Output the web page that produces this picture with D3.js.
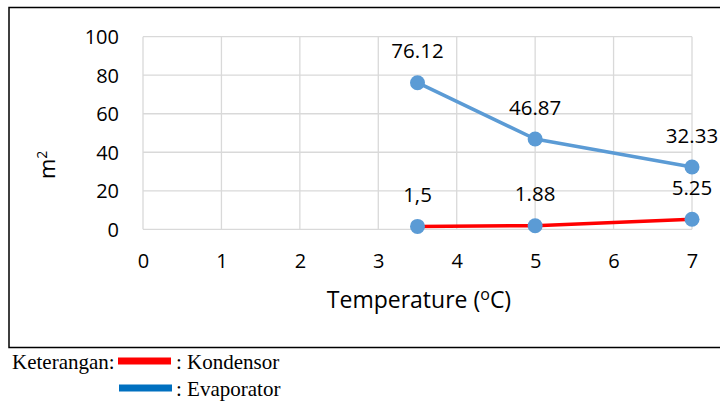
<!DOCTYPE html>
<html>
<head>
<meta charset="utf-8">
<script src="https://cdn.jsdelivr.net/npm/d3@7"></script>
<style>
  html, body { margin: 0; padding: 0; background: #fff; }
  svg { display: block; }
</style>
</head>
<body>
<svg id="chart" width="720" height="401"></svg>
<script>
// ---- data ----
const temperatures = [3.5, 5, 7];
const evaporator = [76.12, 46.87, 32.33];
const kondensor = [1.5, 1.88, 5.25];
const evaporatorLabels = ["76.12", "46.87", "32.33"];
const kondensorLabels = ["1,5", "1.88", "5.25"];
const xTicks = [0, 1, 2, 3, 4, 5, 6, 7];
const yTicks = [0, 20, 40, 60, 80, 100];
const legendItems = ["Kondensor", "Evaporator"];

const svg = d3.select("#chart");
const font = "'Open Sans', sans-serif";

// outer border
svg.append("rect")
  .attr("x", 9).attr("y", 7.5).attr("width", 730).attr("height", 340)
  .attr("fill", "none").attr("stroke", "#000").attr("stroke-width", 1.5);

const x = d3.scaleLinear().domain([0, 7]).range([143, 692]);
const y = d3.scaleLinear().domain([0, 100]).range([229.3, 36.7]);

// gridlines
const g = svg.append("g");
g.selectAll("line.vg").data(xTicks).join("line")
  .attr("x1", d => x(d)).attr("x2", d => x(d))
  .attr("y1", y(0)).attr("y2", y(100))
  .attr("stroke", "#d9d9d9").attr("stroke-width", 1.3);
g.selectAll("line.hg").data(yTicks).join("line")
  .attr("x1", x(0)).attr("x2", x(7))
  .attr("y1", d => y(d)).attr("y2", d => y(d))
  .attr("stroke", "#d9d9d9").attr("stroke-width", 1.3);

// axes (labels only)
const xAxis = d3.axisBottom(x).tickValues(xTicks).tickSize(0).tickPadding(0).tickFormat(d3.format("d"));
const xg = svg.append("g").attr("transform", `translate(0,${y(0)})`).call(xAxis);
xg.select(".domain").remove();
xg.selectAll("text").attr("font-family", font).attr("font-size", 20).attr("fill", "#000")
  .attr("dy", null).attr("y", 39);

const yAxis = d3.axisLeft(y).tickValues(yTicks).tickSize(0).tickPadding(0).tickFormat(d3.format("d"));
const yg = svg.append("g").attr("transform", `translate(119,0)`).call(yAxis);
yg.select(".domain").remove();
yg.selectAll("text").attr("font-family", font).attr("font-size", 20).attr("fill", "#000")
  .attr("x", 0).attr("dy", "0.35em");

// axis titles
const xt = svg.append("text").attr("x", 419).attr("y", 308)
  .attr("text-anchor", "middle").attr("font-family", font).attr("font-size", 23).attr("fill", "#000");
xt.append("tspan").text("Temperature (");
xt.append("tspan").text("o").attr("font-size", 16).attr("dy", -8);
xt.append("tspan").text("C)").attr("dy", 8);

const yt = svg.append("text").attr("transform", "translate(55,179) rotate(-90)")
  .attr("text-anchor", "start").attr("font-family", font).attr("font-size", 22).attr("fill", "#000");
yt.append("tspan").text("m");
yt.append("tspan").text("2").attr("font-size", 14).attr("dy", -8);

// lines
const line = d3.line().x(d => x(d[0])).y(d => y(d[1]));
const evapPts = temperatures.map((t, i) => [t, evaporator[i]]);
const kondPts = temperatures.map((t, i) => [t, kondensor[i]]);

svg.append("path").datum(evapPts).attr("d", line)
  .attr("fill", "none").attr("stroke", "#5B9BD5").attr("stroke-width", 3.5).attr("stroke-linejoin", "round");
svg.append("path").datum(kondPts).attr("d", line)
  .attr("fill", "none").attr("stroke", "#FF0000").attr("stroke-width", 3.5).attr("stroke-linejoin", "round");

// markers
svg.selectAll("circle.evap").data(evapPts).join("circle")
  .attr("cx", d => x(d[0])).attr("cy", d => y(d[1])).attr("r", 7.5).attr("fill", "#5B9BD5");
svg.selectAll("circle.kond").data(kondPts).join("circle")
  .attr("cx", d => x(d[0])).attr("cy", d => y(d[1])).attr("r", 7.5).attr("fill", "#5B9BD5");

// data labels
svg.selectAll("text.evl").data(evapPts).join("text")
  .attr("x", d => x(d[0])).attr("y", d => y(d[1]) - 24.5)
  .attr("text-anchor", "middle").attr("font-family", font).attr("font-size", 20.5).attr("fill", "#000")
  .text((d, i) => evaporatorLabels[i]);
svg.selectAll("text.kdl").data(kondPts).join("text")
  .attr("x", d => x(d[0])).attr("y", d => y(d[1]) - 24.5)
  .attr("text-anchor", "middle").attr("font-family", font).attr("font-size", 20.5).attr("fill", "#000")
  .text((d, i) => kondensorLabels[i]);

// legend
const serif = "'Liberation Serif', 'Times New Roman', serif";
svg.append("text").attr("x", 12).attr("y", 369)
  .attr("font-family", serif).attr("font-size", 21).attr("fill", "#000").text("Keterangan:");
const legColors = ["#FF0000", "#0070C0"];
const legY = [361, 388];
legendItems.forEach((name, i) => {
  svg.append("rect").attr("x", 118 + i).attr("y", legY[i] - 3.5).attr("width", 53).attr("height", 7)
    .attr("fill", legColors[i]);
  svg.append("text").attr("x", 176).attr("y", legY[i] + 8)
    .attr("font-family", serif).attr("font-size", 21).attr("fill", "#000").text(": " + name);
});
</script>
</body>
</html>
